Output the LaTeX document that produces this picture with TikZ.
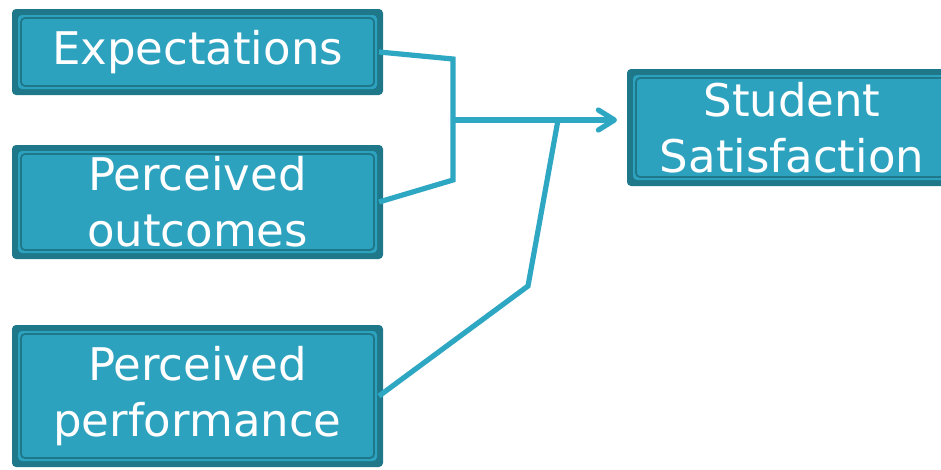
\documentclass[tikz,border=0pt]{standalone}
\usepackage{fontspec}
\setmainfont{DejaVu Sans}
\usetikzlibrary{arrows.meta}
\definecolor{boxfill}{HTML}{2DA2BF}
\definecolor{boxdark}{HTML}{1E788A}
\definecolor{linec}{HTML}{2EA7C3}
\tikzset{
  tealbox/.style={fill=boxdark, rounded corners=4pt, text=white, align=center,
    inner sep=0pt, outer sep=0pt,
    font=\fontsize{45}{56}\selectfont,
    path picture={
      \fill[boxfill] ([shift={(6pt,6pt)}]path picture bounding box.south west) rectangle ([shift={(-6pt,-6pt)}]path picture bounding box.north east);
      \draw[boxdark, line width=1.8pt] ([shift={(9pt,9pt)}]path picture bounding box.south west) rectangle ([shift={(-9pt,-9pt)}]path picture bounding box.north east);
    }},
  conn/.style={draw=linec, line width=5.2pt}
}
\begin{document}
\begin{tikzpicture}[x=1pt,y=-1pt]
\useasboundingbox (0,0) rectangle (941,469);
\begin{scope}
\clip (0,0) rectangle (941,469);
\node[tealbox, minimum width=371pt, minimum height=86pt] (b1) at (197.5,52) {Expectations};
\node[tealbox, minimum width=371pt, minimum height=114pt] (b2) at (197.5,202) {Perceived\\outcomes};
\node[tealbox, minimum width=371pt, minimum height=142pt] (b3) at (197.5,396) {Perceived\\performance};
\node[tealbox, minimum width=330pt, minimum height=117pt] (ss) at (792,127.5) {Student\\Satisfaction};
\end{scope}
\coordinate (j1) at (453,59);
\coordinate (j2) at (453,180);
\coordinate (jm) at (453,120);
\coordinate (k) at (528,286);
\coordinate (m) at (558,120);
\coordinate (tip) at (617,120);
\draw[conn] ([xshift=-4pt]b1.east) -- (j1) -- (j2) -- ([xshift=-4pt]b2.east);
\draw[conn, -{Straight Barb[length=16pt,width=20pt,round]}] (jm) -- (tip);
\draw[conn] ([xshift=-4pt]b3.east) -- (k) -- (m);
\end{tikzpicture}
\end{document}
